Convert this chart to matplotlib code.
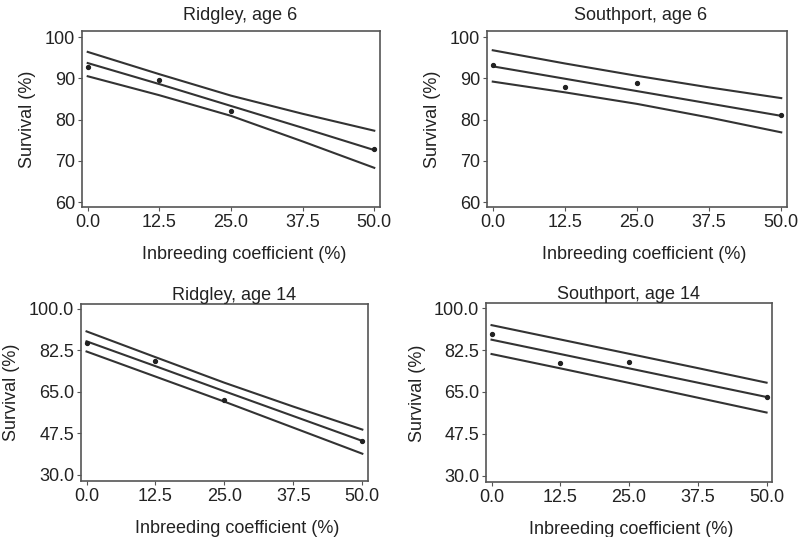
import matplotlib.pyplot as plt

plt.rcParams['font.family'] = ['Liberation Sans', 'DejaVu Sans']

# inbreeding coefficient (%) of observed groups
obs_x = [0, 12.5, 25, 50]
# x positions where fitted curve / CI were read
fit_x = [0, 12.5, 25, 37.5, 50]

titles = ['Ridgley, age 6', 'Southport, age 6', 'Ridgley, age 14', 'Southport, age 14']

ridgley6_obs = [92.7, 89.7, 82.0, 72.8]
ridgley6_fit = [93.7, 88.6, 83.3, 78.0, 72.6]
ridgley6_upper = [96.4, 91.0, 85.8, 81.4, 77.3]
ridgley6_lower = [90.5, 85.9, 80.9, 74.7, 68.3]

southport6_obs = [93.2, 87.8, 88.9, 81.0]
southport6_fit = [92.9, 89.9, 86.9, 83.9, 80.9]
southport6_upper = [96.8, 93.6, 90.6, 87.8, 85.2]
southport6_lower = [89.2, 86.6, 83.8, 80.5, 76.9]

ridgley14_obs = [85.8, 78.0, 61.6, 44.2]
ridgley14_fit = [86.3, 75.8, 65.2, 54.7, 44.2]
ridgley14_upper = [90.5, 79.6, 68.8, 58.7, 49.0]
ridgley14_lower = [82.0, 71.4, 60.8, 49.8, 38.8]

southport14_obs = [89.4, 77.3, 77.7, 62.9]
southport14_fit = [86.9, 80.9, 74.9, 68.9, 62.9]
southport14_upper = [93.0, 87.0, 81.0, 75.0, 68.9]
southport14_lower = [80.9, 74.9, 68.8, 62.6, 56.4]

x_ticks = [0.0, 12.5, 25.0, 37.5, 50.0]
y_ticks_top = [60, 70, 80, 90, 100]
y_ticks_bottom = [30.0, 47.5, 65.0, 82.5, 100.0]

panels = [
    (ridgley6_obs, ridgley6_fit, ridgley6_upper, ridgley6_lower),
    (southport6_obs, southport6_fit, southport6_upper, southport6_lower),
    (ridgley14_obs, ridgley14_fit, ridgley14_upper, ridgley14_lower),
    (southport14_obs, southport14_fit, southport14_upper, southport14_lower),
]

positions = [
    [0.1026, 0.6145, 0.373, 0.328],
    [0.6095, 0.6145, 0.3755, 0.328],
    [0.1014, 0.104, 0.359, 0.330],
    [0.6083, 0.102, 0.358, 0.333],
]
# small offsets of titles / x labels as in the original figure
title_x = [0.53, 0.513, 0.535, 0.497]
title_pad = [8, 8, 3, 3]
xlabel_x = [0.544, 0.523, 0.545, 0.507]

fig = plt.figure(figsize=(7.99, 5.37), dpi=100)

for i, (obs, fit, up, lo) in enumerate(panels):
    ax = fig.add_axes(positions[i])
    for band in (up, fit, lo):
        ax.plot(fit_x, band, color='#333333', lw=1.5)
    ax.plot(obs_x, obs, 'o', color='#222222', ms=2.8, mec='#222222')

    ax.set_xlim(-1.0, 51.0)
    ax.set_xticks(x_ticks)
    ax.set_xticklabels([f'{t:.1f}' for t in x_ticks])
    if i < 2:
        ax.set_ylim(58.8, 101.5)
        ax.set_yticks(y_ticks_top)
        ax.set_yticklabels([f'{t:d}' for t in y_ticks_top])
    else:
        ax.set_ylim(27.2, 102.1)
        ax.set_yticks(y_ticks_bottom)
        ax.set_yticklabels([f'{t:.1f}' for t in y_ticks_bottom])

    ax.set_title(titles[i], fontsize=13, pad=title_pad[i], x=title_x[i], color='#222222')
    ax.set_xlabel('Inbreeding coefficient (%)', fontsize=13, labelpad=11,
                  x=xlabel_x[i], color='#222222')
    ax.set_ylabel('Survival (%)', fontsize=13, labelpad=6, color='#222222')
    ax.tick_params(labelsize=13, length=3, width=0.8, pad=2,
                   colors='#555555', labelcolor='#222222')
    for s in ax.spines.values():
        s.set_color('#555555')
        s.set_linewidth(1.2)

fig.savefig('out.png', dpi=100, facecolor='white')
